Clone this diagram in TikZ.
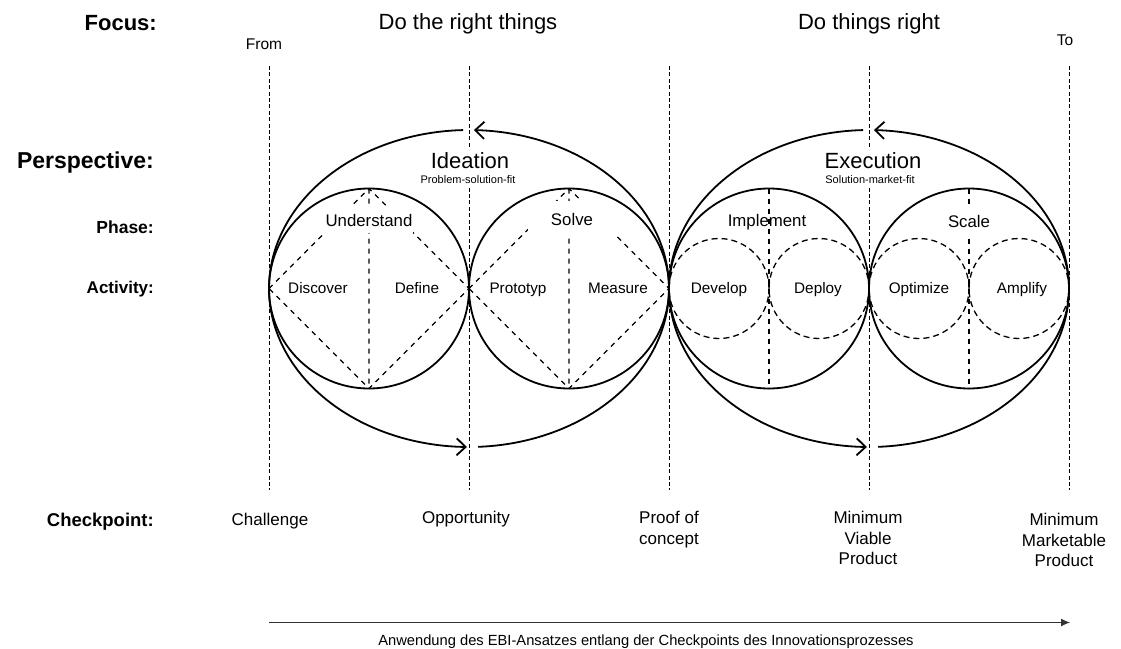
\documentclass[tikz,border=0pt]{standalone}
\usepackage{fontspec}
\setmainfont{Liberation Sans}
\usetikzlibrary{arrows.meta}
\newcommand{\pxs}[2]{\fontsize{#1pt}{#2pt}\selectfont}

\begin{document}
\begin{tikzpicture}[x=1pt, y=-1pt,
  guide/.style={line width=1pt, dash pattern=on 4pt off 2.4pt},
  ring/.style={draw, circle, line width=1.8pt, minimum size=200pt, inner sep=0pt, outer sep=0pt},
  subring/.style={draw, circle, line width=1.3pt, dash pattern=on 6pt off 4pt, minimum size=100pt, inner sep=0pt, outer sep=0pt},
  split/.style={line width=1.1pt, dash pattern=on 5pt off 5pt},
  cycle arc/.style={line width=1.8pt, -{Straight Barb[length=9pt, width=17pt]}},
  hdr/.style={anchor=east, inner sep=0pt, text depth=0pt},
  toptext/.style={inner sep=0pt, text depth=0pt},
  perspbox/.style={fill=white, font=\pxs{22}{26}, inner xsep=3pt, inner ysep=4pt, text height=16pt, text depth=0pt},
  fitbox/.style={fill=white, font=\pxs{11}{13}, inner sep=2pt, text height=8pt, text depth=2.4pt},
  phaselabel/.style={font=\pxs{16.8}{20}, inner sep=0pt, text height=12pt, text depth=0pt},
  phasebox/.style={phaselabel, fill=white, minimum width=88pt},
  act/.style={font=\pxs{15.3}{18}, inner sep=0pt, text height=11pt, text depth=0pt},
  cp/.style={anchor=north, align=center, font=\pxs{17}{20.5}, inner sep=0pt},
  flow/.style={draw=black!80, line width=1pt, -{Latex[length=9pt, width=8pt]}},
  caption/.style={font=\pxs{14.7}{17}, inner sep=0pt, text height=10.5pt, text depth=0pt}
]
\useasboundingbox (0,0) rectangle (1121,648);

% row headings
\node[hdr, font=\bfseries\pxs{22}{26}, text height=16pt] (focus) at (157,22) {Focus:};
\node[hdr, font=\bfseries\pxs{23}{27}, text height=16.6pt] (perspective) at (154,160) {Perspective:};
\node[hdr, font=\bfseries\pxs{17.5}{21}, text height=12.6pt] (phase) at (154,227) {Phase:};
\node[hdr, font=\bfseries\pxs{17}{21}, text height=12.3pt] (activity) at (154,287) {Activity:};
\node[hdr, font=\bfseries\pxs{18.5}{22}, text height=13.3pt] (checkpoint) at (154,520) {Checkpoint:};

% focus headings
\node[toptext, font=\pxs{22}{26}, text height=16pt] (right things) at (468,21) {Do the right things};
\node[toptext, font=\pxs{22}{26}, text height=16pt] (things right) at (869,21) {Do things right};
\node[toptext, font=\pxs{15.5}{18}, text height=11.2pt] (from) at (264,44) {From};
\node[toptext, font=\pxs{15.5}{18}, text height=11.2pt] (to) at (1065,40) {To};

% checkpoint guides
\foreach \i/\gx in {0/269,1/469,2/669,3/869,4/1069} {
  \coordinate (g\i top) at (\gx,66);
  \coordinate (g\i bot) at (\gx,490);
  \draw[guide] (g\i top) -- (g\i bot);
}

% phase rings
\node[ring] (understand) at (369,288.5) {};
\node[ring] (solve) at (569,288.5) {};
\node[ring] (implement) at (769,288.5) {};
\node[ring] (scale) at (969,288.5) {};

% diamonds of the ideation phases
\foreach \r in {understand,solve}
  \draw[split] (\r.west) -- (\r.north) -- (\r.east) -- (\r.south) -- cycle
               (\r.north) -- (\r.south);

% activity rings of the execution phases
\node[subring] (develop ring) at (719,288.5) {};
\node[subring] (deploy ring) at (819,288.5) {};
\node[subring] (optimize ring) at (919,288.5) {};
\node[subring] (amplify ring) at (1019,288.5) {};
\foreach \r in {implement,scale}
  \draw[split] (\r.north) -- (\r.south);

% perspective cycles
\foreach \cx in {469,869} {
  \draw[cycle arc] plot[domain=-87.4:88.6, samples=90, smooth]
    ({\cx+200*cos(\x)},{288.5-158.5*sin(\x)});
  \draw[cycle arc] plot[domain=91.7:269.4, samples=90, smooth]
    ({\cx+200*cos(\x)},{288.5-158.5*sin(\x)});
}

% perspective labels
\node[perspbox] (ideation) at (470,160) {Ideation};
\node[fitbox] (ideation fit) at (468,181) {Problem-solution-fit};
\node[perspbox] (execution) at (873,160) {Execution};
\node[fitbox] (execution fit) at (870,181) {Solution-market-fit};

% phase labels
\node[phasebox, minimum height=26pt] (understand label) at (369,220) {Understand};
\node[phasebox, minimum height=36pt] (solve label) at (572,219) {Solve};
\node[phaselabel] (implement label) at (767,220) {Implement};
\node[phasebox, minimum height=30pt] (scale label) at (969,221) {Scale};

% activity labels
\node[act] (discover) at (318,288) {Discover};
\node[act] (define) at (417,288) {Define};
\node[act] (prototyp) at (518,288) {Prototyp};
\node[act] (measure) at (618,288) {Measure};
\node[act] (develop) at (719,288) {Develop};
\node[act] (deploy) at (818,288) {Deploy};
\node[act] (optimize) at (919,288) {Optimize};
\node[act] (amplify) at (1022,288) {Amplify};

% checkpoints
\node[cp] (challenge) at (270,513) {Challenge};
\node[cp] (opportunity) at (466,511) {Opportunity};
\node[cp] (poc) at (669,511) {Proof of\\concept};
\node[cp] (mvp) at (868,511) {Minimum\\Viable\\Product};
\node[cp] (mmp) at (1064,513) {Minimum\\Marketable\\Product};

% process direction
\coordinate (flow start) at (269,622.5);
\coordinate (flow end) at (1070,622.5);
\draw[flow] (flow start) -- (flow end);
\node[caption] (flow caption) at (646,640) {Anwendung des EBI-Ansatzes entlang der Checkpoints des Innovationsprozesses};
\end{tikzpicture}
\end{document}
